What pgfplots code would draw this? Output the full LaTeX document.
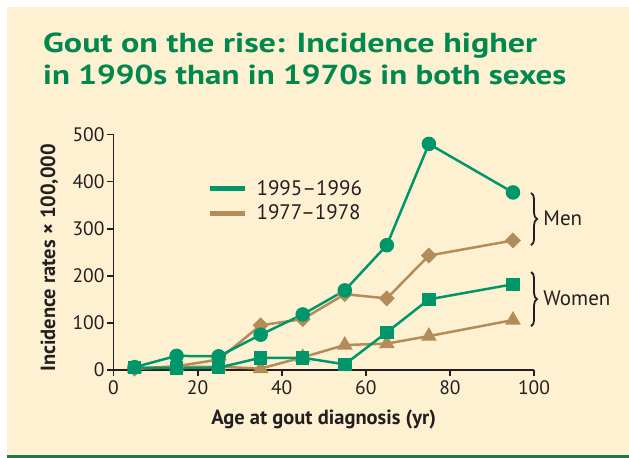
\documentclass[border=0pt]{standalone}
\usepackage{pgfplots}
\pgfplotsset{compat=1.18}
\usepackage{fontspec}
\setmainfont{PT Sans}
\usetikzlibrary{decorations.pathreplacing}
\definecolor{bgcream}{HTML}{FEF1D2}
\definecolor{titlegreen}{HTML}{00884F}
\definecolor{sgreen}{HTML}{00966C}
\definecolor{stan}{HTML}{B48C58}
\definecolor{darkax}{HTML}{231F20}
\definecolor{rulegreen}{HTML}{1D7A48}

\pgfplotstableread{
x men95 men77 wom95 wom77
5   6   3   5   3
15  30  8   4   6
25  29  22  5   7
35  75  95  26  3
45  118 108 26  27
55  169 161 12  53
65  265 152 80  56
75  480 243 150 72
95  377 275 182 106
}\gout

\begin{document}
\begin{tikzpicture}
\useasboundingbox (0,0) rectangle (629bp,458bp);
\fill[white] (0,0) rectangle (629bp,458bp);
\fill[bgcream] (7bp,2.5bp) rectangle (629bp,451bp);
\fill[rulegreen] (7bp,0) rectangle (629bp,2.5bp);
\node[anchor=base west, inner sep=0pt, text=titlegreen, font=\fontsize{27.5bp}{30bp}\selectfont\bfseries] at (43bp,405bp) {\resizebox{494bp}{\height}{Gout on the rise: Incidence higher}};
\node[anchor=base west, inner sep=0pt, text=titlegreen, font=\fontsize{27.5bp}{30bp}\selectfont\bfseries] at (43bp,373bp) {\resizebox{523bp}{\height}{in 1990s than in 1970s in both sexes}};
\begin{axis}[
  at={(113.5bp,88bp)}, anchor=south west,
  scale only axis, width=420.5bp, height=235.5bp,
  xmin=0, xmax=100, ymin=0, ymax=500,
  clip=false,
  axis x line*=bottom, axis y line*=left,
  axis line style={-, line width=1.9bp, darkax},
  tick align=outside,
  major tick length=6.5bp,
  every tick/.style={line width=1.8bp, darkax},
  xtick={0,20,40,60,80,100},
  ytick={0,100,200,300,400,500},
  /pgf/number format/assume math mode=true,
  /pgf/number format/1000 sep={},
  tick label style={font=\fontsize{19.5bp}{22bp}\selectfont, text=darkax},
  xticklabel style={yshift=-1bp},
  yticklabel style={xshift=1bp},
  xlabel={Age at gout diagnosis (yr)},
  ylabel={Incidence rates × 100,000},
  label style={font=\fontsize{20.5bp}{24bp}\selectfont\bfseries, text=darkax},
  xlabel style={at={(axis description cs:0.5,-0.2335)}, anchor=base},
  ylabel style={at={(axis description cs:-0.139,0.476)}, anchor=base},
  legend style={at={(axis cs:22.4,407)}, anchor=north west, draw=none, fill=none,
    font=\fontsize{21bp}{24bp}\selectfont, text=darkax, row sep=4bp,
    inner sep=0pt},
  legend cell align=left,
  legend image code/.code={\draw[#1, line width=5bp] (0bp,0bp) -- (35bp,0bp); \path (44bp,0bp);},
]
\addlegendimage{sgreen}
\addlegendentry{1995--1996}
\addlegendimage{stan}
\addlegendentry{1977--1978}

\addplot[stan, line width=2.5bp, mark=square*, mark size=4.4bp, mark options={rotate=45, solid}, forget plot] table[x=x, y=men77] {\gout};
\addplot[stan, line width=2.5bp, mark=triangle*, mark size=6.5bp, mark options={solid}, forget plot] table[x=x, y=wom77] {\gout};
\addplot[sgreen, line width=2.5bp, mark=*, mark size=6bp, forget plot] table[x=x, y=men95] {\gout};
\addplot[sgreen, line width=2.5bp, mark=square*, mark size=5.5bp, forget plot] table[x=x, y=wom95] {\gout};

\draw[darkax, line width=1.8bp, decorate, decoration={brace, amplitude=6bp}] (axis cs:99.3,376) -- (axis cs:99.3,265);
\draw[darkax, line width=1.8bp, decorate, decoration={brace, amplitude=6bp}] (axis cs:99.3,208) -- (axis cs:99.3,93);
\node[anchor=west, inner sep=0pt, text=darkax, font=\fontsize{21bp}{24bp}\selectfont] at (axis cs:102.2,323) {Men};
\node[anchor=west, inner sep=0pt, text=darkax, font=\fontsize{21bp}{24bp}\selectfont] at (axis cs:102.2,153) {Women};
\end{axis}
\end{tikzpicture}
\end{document}
